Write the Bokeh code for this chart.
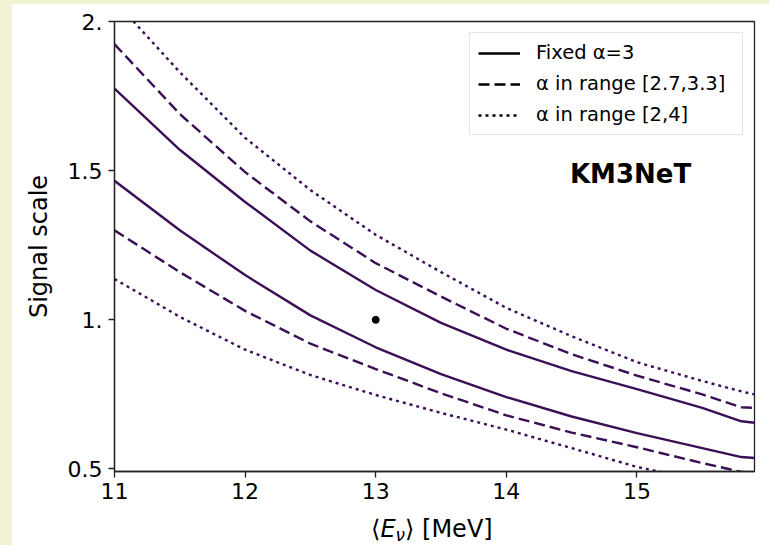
from bokeh.plotting import figure
from bokeh.models import Label, Legend, LegendItem, FixedTicker, Range1d, Spacer, Div
from bokeh.layouts import column, row
from bokeh.embed import file_html
from bokeh.resources import INLINE

# ---- data ----
energy = [11.0, 11.5, 12.0, 12.5, 13.0, 13.5, 14.0, 14.5, 15.0, 15.5, 15.8, 15.9]
fixed_upper = [1.775, 1.570, 1.395, 1.232, 1.100, 0.990, 0.900, 0.828, 0.768, 0.705, 0.660, 0.655]
fixed_lower = [1.466, 1.300, 1.150, 1.015, 0.908, 0.818, 0.741, 0.676, 0.620, 0.570, 0.540, 0.537]
narrow_upper = [1.924, 1.690, 1.495, 1.330, 1.190, 1.078, 0.970, 0.885, 0.813, 0.750, 0.707, 0.705]
narrow_lower = [1.300, 1.160, 1.030, 0.920, 0.835, 0.754, 0.680, 0.622, 0.573, 0.520, 0.490, 0.478]
wide_upper = [2.070, 1.830, 1.610, 1.435, 1.285, 1.160, 1.040, 0.945, 0.858, 0.795, 0.760, 0.750]
wide_lower = [1.137, 1.010, 0.900, 0.815, 0.748, 0.688, 0.632, 0.570, 0.507, 0.460, 0.430, 0.420]
best_x = [13.0]
best_y = [1.0]
x_ticks = [11, 12, 13, 14, 15]
y_ticks = [0.5, 1.0, 1.5, 2.0]
y_tick_labels = ["0.5", "1.", "1.5", "2."]
legend_labels = ["Fixed \u03b1=3", "\u03b1 in range [2.7,3.3]", "\u03b1 in range [2,4]"]

X0, X1 = 11.0, 15.9
Y0, Y1 = 0.4916, 2.0
FONT = "DejaVu Sans"
purple = "#3b0f55"
axis_col = "#222222"
bg = "#f2f2d4"

p = figure(frame_width=640, frame_height=450, x_range=Range1d(X0, X1), y_range=Range1d(Y0, Y1),
           output_backend="svg", toolbar_location=None,
           min_border_left=102, min_border_right=15, min_border_top=17, min_border_bottom=38)
p.background_fill_color = "white"
p.border_fill_color = "white"
p.outline_line_color = axis_col
p.outline_line_width = 1.3
p.xgrid.visible = False
p.ygrid.visible = False

for ax in (p.xaxis[0], p.yaxis[0]):
    ax.axis_line_color = axis_col
    ax.axis_line_width = 1.3
    ax.major_tick_line_color = axis_col
    ax.major_tick_line_width = 1.3
    ax.major_tick_out = 6
    ax.major_tick_in = 0
    ax.minor_tick_line_color = None
    ax.major_label_text_font = FONT
    ax.major_label_text_font_size = "22px"
    ax.major_label_text_color = "black"

p.xaxis.ticker = FixedTicker(ticks=x_ticks)
p.xaxis.major_label_standoff = 5
p.yaxis.ticker = FixedTicker(ticks=y_ticks)
p.yaxis.major_label_overrides = {t: s for t, s in zip(y_ticks, y_tick_labels)}
p.yaxis.major_label_standoff = 6
p.yaxis.axis_label = "Signal scale"
p.yaxis.axis_label_text_font = FONT
p.yaxis.axis_label_text_font_size = "24px"
p.yaxis.axis_label_text_font_style = "normal"
p.yaxis.axis_label_text_color = "black"
p.yaxis.axis_label_standoff = 12

dash = "11 5"
dot = "3 4"
curves = [(fixed_upper, "solid"), (fixed_lower, "solid"),
          (narrow_upper, dash), (narrow_lower, dash),
          (wide_upper, dot), (wide_lower, dot)]
for ys, d in curves:
    p.line(energy, ys, line_color=purple, line_width=2.4, line_dash=d, line_join="round")

p.scatter(best_x, best_y, size=7, color="black")

# legend samples (black), kept outside the visible frame
off_x = [X0 - 2, X0 - 1]
off_y = [Y0 - 2, Y0 - 2]
leg_r = []
for d in ["solid", dash, dot]:
    leg_r.append(p.line(off_x, off_y, line_color="black", line_width=2.4, line_dash=d))
legend = Legend(items=[LegendItem(label=l, renderers=[r]) for l, r in zip(legend_labels, leg_r)],
                location="top_right")
legend.margin = 11
legend.padding = 8
legend.spacing = 8
legend.glyph_width = 42
legend.glyph_height = 22
legend.label_height = 22
legend.label_width = 198
legend.label_standoff = 16
legend.label_text_font = FONT
legend.label_text_font_size = "19.5px"
legend.label_text_color = "black"
legend.border_line_color = "#cccccc"
legend.border_line_width = 1
legend.background_fill_color = "white"
legend.background_fill_alpha = 1.0
p.add_layout(legend)

def sx(px):
    return X0 + (px - 114) * (X1 - X0) / 640.0

def sy(py):
    return Y1 - (py - 21) * (Y1 - Y0) / 450.0

p.add_layout(Label(x=sx(630), y=sy(173), text="KM3NeT", text_font=FONT, text_font_size="26px",
                   text_font_style="bold", text_align="center", text_baseline="middle",
                   text_color="black"))

xlabel = Div(
    text=('<span style="position:absolute;left:354px;top:1px;white-space:nowrap;'
          'font-family:\'DejaVu Sans\';font-size:24px;color:black;line-height:28px">'
          '\u27e8<i>E</i><span style="position:relative;top:4px;font-size:17px;'
          'font-style:italic;line-height:17px">\u03bd</span>\u27e9 [MeV]</span>'),
    width=757, height=36, styles={"background-color": "white", "position": "relative"})

top = Spacer(width=769, height=4, styles={"background-color": bg})
left = Spacer(width=12, height=541, styles={"background-color": bg})
layout = column(top, row(left, column(p, xlabel)))

open("out.html", "w").write(file_html(layout, INLINE))
